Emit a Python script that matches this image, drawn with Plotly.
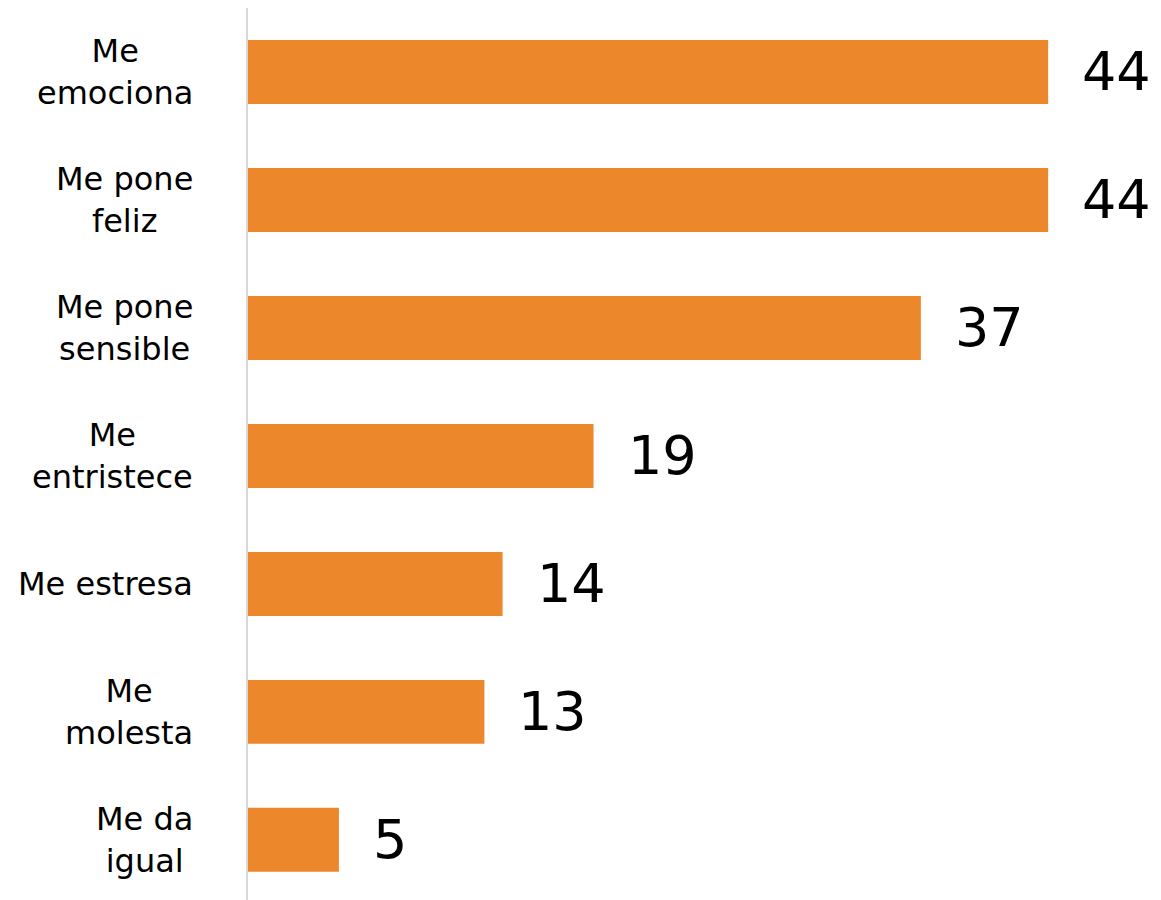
import plotly.graph_objects as go

# Survey responses: how the topic makes people feel (percent)
categories = [
    "Me<br>emociona",
    "Me pone<br>feliz",
    "Me pone<br>sensible",
    "Me<br>entristece",
    "Me estresa",
    "Me<br>molesta",
    "Me da<br>igual",
]
values = [44, 44, 37, 19, 14, 13, 5]

BAR_COLOR = "#ED872B"
FONT = "DejaVu Sans"

fig = go.Figure()
fig.add_trace(
    go.Bar(
        x=values,
        y=categories,
        orientation="h",
        marker=dict(color=BAR_COLOR, line=dict(width=0)),
        hoverinfo="skip",
    )
)

for cat, val in zip(categories, values):
    # value label to the right of the bar
    fig.add_annotation(
        x=val,
        y=cat,
        text=str(val),
        xref="x",
        yref="y",
        xanchor="left",
        yanchor="middle",
        xshift=32,
        showarrow=False,
        font=dict(family=FONT, size=54, color="#000000"),
    )
    # category label, lines centred on each other, left of the axis
    fig.add_annotation(
        x=0,
        y=cat,
        text=cat,
        xref="paper",
        yref="y",
        xanchor="right",
        yanchor="middle",
        align="center",
        xshift=-53,
        showarrow=False,
        font=dict(family=FONT, size=32, color="#000000"),
    )

fig.update_layout(
    width=1161,
    height=900,
    margin=dict(l=248, r=11, t=8, b=0),
    paper_bgcolor="white",
    plot_bgcolor="white",
    bargap=0.5,
    showlegend=False,
    xaxis=dict(
        range=[0, 49.6],
        visible=False,
        showgrid=False,
        zeroline=False,
    ),
    yaxis=dict(
        type="category",
        categoryorder="array",
        categoryarray=categories,
        range=[6.47, -0.5],
        showline=True,
        linecolor="#d9d9d9",
        linewidth=2,
        showgrid=False,
        zeroline=False,
        ticks="",
        showticklabels=False,
    ),
)

fig.write_html("out.html")
